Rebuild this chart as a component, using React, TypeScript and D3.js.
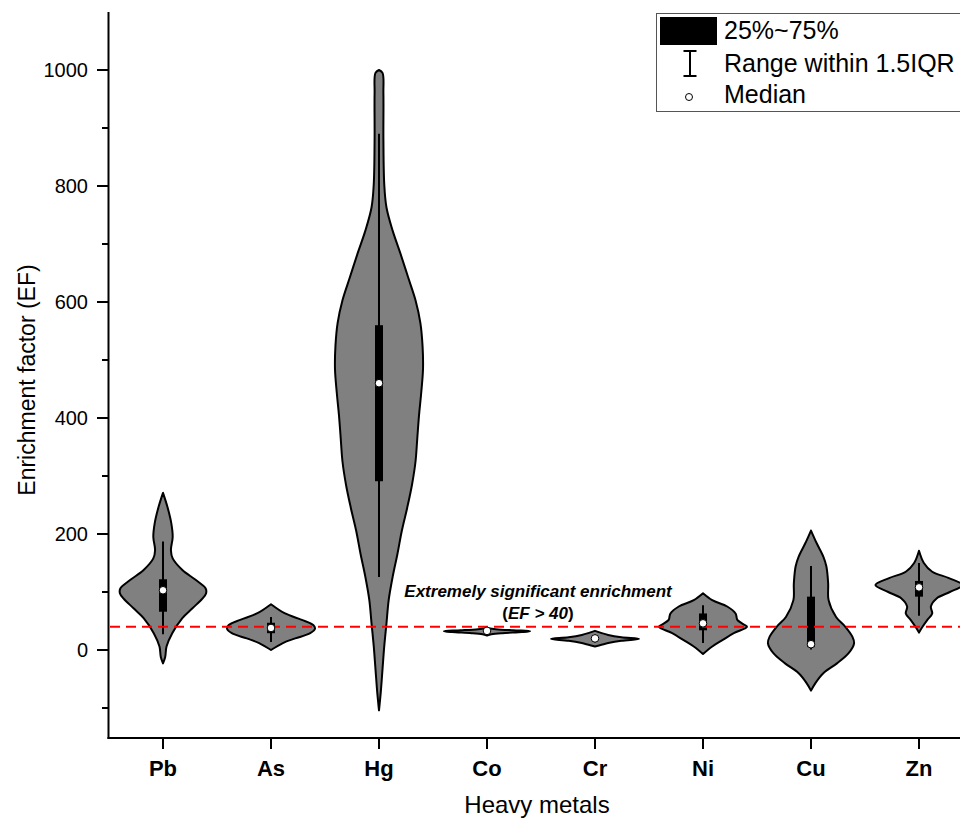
import React, { useRef, useEffect } from 'react';
import * as d3 from 'd3';

const metals = ['Pb', 'As', 'Hg', 'Co', 'Cr', 'Ni', 'Cu', 'Zn'];

// violin outlines: [EF value, relative half width]
const pbShape = [[-23, 0], [-12, 0.05], [6, 0.08], [29, 0.21], [55, 0.44], [72, 0.67], [89, 0.9], [98, 0.98], [106, 0.97], [121, 0.74], [138, 0.44], [158, 0.22], [172, 0.18], [195, 0.22], [218, 0.19], [247, 0.1], [271, 0]];
const asShape = [[0, 0], [12, 0.27], [20, 0.55], [29, 0.89], [37, 1.0], [43, 0.96], [52, 0.7], [63, 0.32], [79, 0]];
const hgShape = [[-104, 0], [-73, 0.04], [-33, 0.08], [7, 0.12], [46, 0.17], [86, 0.22], [126, 0.31], [166, 0.42], [206, 0.52], [245, 0.64], [285, 0.75], [325, 0.83], [365, 0.87], [405, 0.91], [444, 0.96], [484, 1.0], [524, 0.99], [564, 0.94], [603, 0.83], [643, 0.66], [683, 0.49], [723, 0.31], [763, 0.17], [802, 0.12], [882, 0.1], [960, 0.1], [995, 0.08], [1000, 0]];
const coShape = [[25, 0], [27, 0.1], [29, 0.35], [31, 0.8], [32.5, 0.98], [34, 0.6], [36, 0.2], [38, 0]];
const crShape = [[6, 0], [9, 0.15], [12, 0.3], [16, 0.6], [19, 1.0], [22, 0.6], [26, 0.3], [30, 0.12], [33, 0]];
const niShape = [[-7, 0], [6, 0.21], [17, 0.44], [29, 0.7], [40, 1.0], [43, 0.95], [52, 0.78], [58, 0.76], [63, 0.74], [75, 0.55], [86, 0.21], [98, 0]];
const cuShape = [[-70, 0], [-57, 0.1], [-40, 0.28], [-23, 0.59], [-6, 0.85], [12, 0.98], [23, 0.94], [40, 0.78], [57, 0.57], [86, 0.4], [115, 0.39], [144, 0.35], [161, 0.28], [184, 0.13], [206, 0]];
const znShape = [[30, 0], [40, 0.08], [52, 0.19], [63, 0.3], [75, 0.27], [89, 0.4], [100, 0.7], [112, 0.99], [124, 0.68], [135, 0.3], [150, 0.11], [171, 0]];
const shapes = [pbShape, asShape, hgShape, coShape, crShape, niShape, cuShape, znShape];

// box stats
const q1 = [66, 29, 291, 32, 17, 34, 5, 92];
const q3 = [122, 47, 560, 34, 22, 63, 92, 119];
const medians = [103, 38, 460, 33, 20, 46, 10, 108];
const whiskerLow = [27, 14, 126, 31, 13, 12, 1, 59];
const whiskerHigh = [187, 57, 890, 35, 27, 77, 145, 150];

const yTicks = [0, 200, 400, 600, 800, 1000];
const yMinorTicks = [-100, 100, 300, 500, 700, 900];
const threshold = 40;

const FONT = '"Liberation Sans", Arial, sans-serif';

const App = () => {
  const ref = useRef(null);

  useEffect(() => {
    const svg = d3.select(ref.current);
    svg.selectAll('*').remove();

    const y = d3.scaleLinear().domain([-151.7, 1100]).range([738, 12]);
    const x = d3.scaleBand().domain(metals).range([109, 973]);
    const w = d3.scaleLinear().domain([0, 1]).range([0, 44]);

    svg.append('rect').attr('width', 960).attr('height', 818).attr('fill', '#fff');

    // violins
    metals.forEach((m, i) => {
      const cx = x(m) + x.bandwidth() / 2;
      const area = d3
        .area()
        .curve(d3.curveCatmullRom)
        .y((d) => y(d[0]))
        .x0((d) => cx - w(d[1]))
        .x1((d) => cx + w(d[1]));
      svg
        .append('path')
        .attr('d', area(shapes[i]))
        .attr('fill', '#808080')
        .attr('stroke', '#000')
        .attr('stroke-width', 2)
        .attr('stroke-linejoin', 'round');
      // whisker
      svg
        .append('line')
        .attr('x1', cx)
        .attr('x2', cx)
        .attr('y1', y(whiskerLow[i]))
        .attr('y2', y(whiskerHigh[i]))
        .attr('stroke', '#000')
        .attr('stroke-width', 2);
      // box
      svg
        .append('rect')
        .attr('x', cx - 4)
        .attr('width', 8)
        .attr('y', y(q3[i]))
        .attr('height', Math.max(1, y(q1[i]) - y(q3[i])))
        .attr('fill', '#000');
    });

    // threshold line
    svg
      .append('line')
      .attr('x1', 110)
      .attr('x2', 960)
      .attr('y1', y(threshold))
      .attr('y2', y(threshold))
      .attr('stroke', '#ff0000')
      .attr('stroke-width', 2)
      .attr('stroke-dasharray', '10,6');

    // medians
    metals.forEach((m, i) => {
      const cx = x(m) + x.bandwidth() / 2;
      svg
        .append('circle')
        .attr('cx', cx)
        .attr('cy', y(medians[i]))
        .attr('r', 3.8)
        .attr('fill', '#fff')
        .attr('stroke', '#000')
        .attr('stroke-width', 1);
    });

    // axes
    svg.append('line').attr('x1', 108.5).attr('x2', 108.5).attr('y1', 12).attr('y2', 739).attr('stroke', '#000').attr('stroke-width', 2);
    svg.append('line').attr('x1', 107.5).attr('x2', 960).attr('y1', 738).attr('y2', 738).attr('stroke', '#000').attr('stroke-width', 2);

    yTicks.forEach((t) => {
      svg.append('line').attr('x1', 97).attr('x2', 108).attr('y1', y(t)).attr('y2', y(t)).attr('stroke', '#000').attr('stroke-width', 2);
      svg
        .append('text')
        .attr('x', 88)
        .attr('y', y(t))
        .attr('dy', '0.36em')
        .attr('text-anchor', 'end')
        .attr('font-family', FONT)
        .attr('font-size', 20)
        .text(t);
    });
    yMinorTicks.forEach((t) => {
      svg.append('line').attr('x1', 102).attr('x2', 108).attr('y1', y(t)).attr('y2', y(t)).attr('stroke', '#000').attr('stroke-width', 2);
    });

    metals.forEach((m) => {
      const cx = x(m) + x.bandwidth() / 2;
      svg.append('line').attr('x1', cx).attr('x2', cx).attr('y1', 738).attr('y2', 749).attr('stroke', '#000').attr('stroke-width', 2);
      svg
        .append('text')
        .attr('x', cx)
        .attr('y', 776)
        .attr('text-anchor', 'middle')
        .attr('font-family', FONT)
        .attr('font-weight', 'bold')
        .attr('font-size', 22)
        .text(m);
    });

    svg
      .append('text')
      .attr('transform', 'translate(35,380) rotate(-90)')
      .attr('text-anchor', 'middle')
      .attr('font-family', FONT)
      .attr('font-size', 23)
      .text('Enrichment factor (EF)');

    svg
      .append('text')
      .attr('x', 537)
      .attr('y', 813)
      .attr('text-anchor', 'middle')
      .attr('font-family', FONT)
      .attr('font-size', 24)
      .text('Heavy metals');

    // annotation
    svg
      .append('text')
      .attr('x', 538)
      .attr('y', 597)
      .attr('text-anchor', 'middle')
      .attr('font-family', FONT)
      .attr('font-weight', 'bold')
      .attr('font-style', 'italic')
      .attr('font-size', 17)
      .text('Extremely significant enrichment');
    const ann = svg
      .append('text')
      .attr('x', 538)
      .attr('y', 619)
      .attr('text-anchor', 'middle')
      .attr('font-family', FONT)
      .attr('font-weight', 'bold')
      .attr('font-size', 17);
    ann.append('tspan').text('(');
    ann.append('tspan').attr('font-style', 'italic').text('EF > 40');
    ann.append('tspan').text(')');

    // legend
    const lg = svg.append('g').attr('font-family', FONT).attr('font-size', 25);
    lg.append('rect').attr('x', 656.5).attr('y', 13.5).attr('width', 320).attr('height', 98).attr('fill', '#fff').attr('stroke', '#555').attr('stroke-width', 1);
    lg.append('rect').attr('x', 660).attr('y', 17).attr('width', 57).attr('height', 28).attr('fill', '#000');
    lg.append('text').attr('x', 724).attr('y', 39).text('25%~75%');
    lg.append('line').attr('x1', 690).attr('x2', 690).attr('y1', 51).attr('y2', 76).attr('stroke', '#000').attr('stroke-width', 2);
    lg.append('line').attr('x1', 683.5).attr('x2', 696.5).attr('y1', 51).attr('y2', 51).attr('stroke', '#000').attr('stroke-width', 2);
    lg.append('line').attr('x1', 683.5).attr('x2', 696.5).attr('y1', 76).attr('y2', 76).attr('stroke', '#000').attr('stroke-width', 2);
    lg.append('text').attr('x', 724).attr('y', 72).text('Range within 1.5IQR');
    lg.append('circle').attr('cx', 689).attr('cy', 97).attr('r', 3.5).attr('fill', '#fff').attr('stroke', '#000').attr('stroke-width', 1);
    lg.append('text').attr('x', 724).attr('y', 103).text('Median');
  }, []);

  return (
    <svg
      ref={ref}
      width={960}
      height={818}
      style={{ position: 'absolute', left: 0, top: 0 }}
    />
  );
};

export default App;
